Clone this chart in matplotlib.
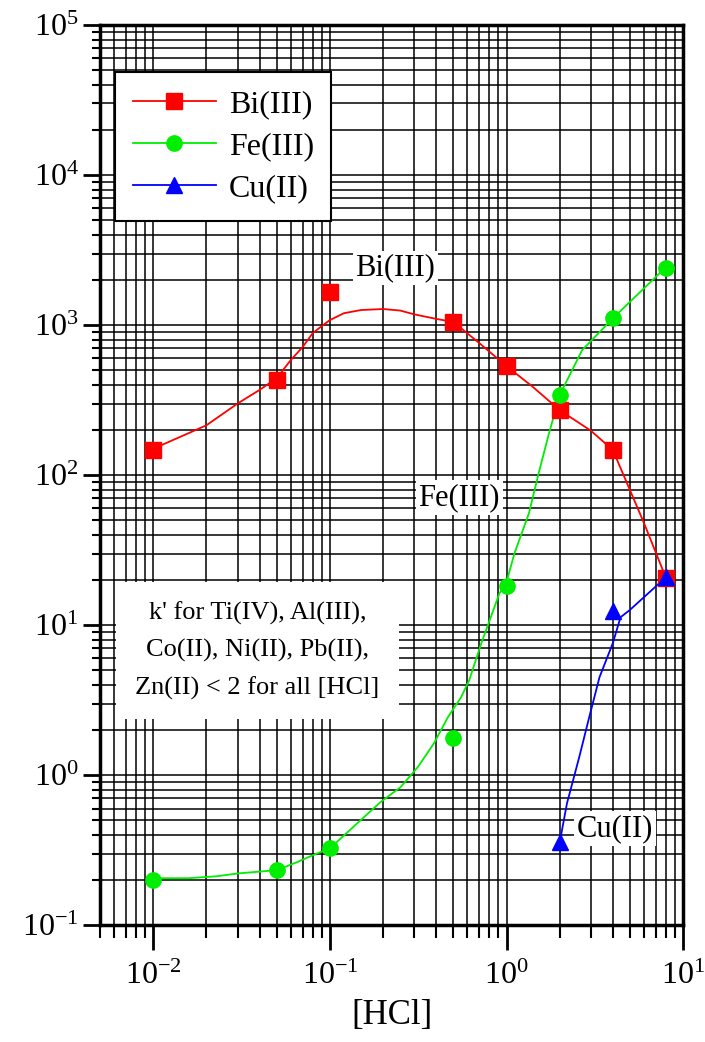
import math
import matplotlib.pyplot as plt
import matplotlib.ticker as mticker
import matplotlib

matplotlib.rcParams['font.family'] = ['Liberation Serif', 'DejaVu Serif']
matplotlib.rcParams['mathtext.fontset'] = 'custom'
matplotlib.rcParams['mathtext.rm'] = 'Liberation Serif'
matplotlib.rcParams['mathtext.it'] = 'Liberation Serif'

# measured points
hcl = [0.01, 0.05, 0.1, 0.5, 1, 2, 4, 8]
bi_k = [148, 430, 1660, 1050, 533, 271, 147, 20.6]
fe_k = [0.2, 0.233, 0.326, 1.77, 18.2, 342, 1110, 2400]
cu_hcl = [2, 4, 8]
cu_k = [0.357, 12.4, 20.9]

# smooth curves as drawn in the figure
bi_fit_x = [0.01, 0.02, 0.03, 0.04, 0.05, 0.06, 0.07, 0.08, 0.09, 0.1, 0.12, 0.15, 0.2,
            0.25, 0.3, 0.4, 0.5, 0.7, 1, 1.4, 2, 3, 4, 6, 8]
bi_fit_y = [150, 215, 300, 370, 443, 584, 713, 885, 985, 1080, 1200, 1260, 1280,
            1250, 1180, 1100, 1050, 760, 533, 390, 271, 198, 147, 48, 20.6]
fe_fit_x = [0.01, 0.0158, 0.0226, 0.0306, 0.05, 0.0648, 0.08, 0.1, 0.143, 0.193, 0.251,
            0.314, 0.388, 0.466, 0.553, 0.615, 0.72, 0.912, 1, 1.11, 1.34, 1.52, 1.74,
            2, 2.68, 4, 8]
fe_fit_y = [0.206, 0.206, 0.212, 0.222, 0.233, 0.263, 0.293, 0.326, 0.479, 0.661, 0.832,
            1.13, 1.63, 2.44, 3.31, 4.3, 7.59, 16.3, 19.4, 30.2, 55.8, 103, 190,
            342, 681, 1110, 2436]
cu_fit_x = [2, 2.2, 2.58, 2.94, 3.36, 4, 4.42, 4.98, 8]
cu_fit_y = [0.357, 0.651, 1.32, 2.44, 4.5, 7.6, 11.3, 12.6, 20.9]

fig = plt.figure(figsize=(7.05, 10.42), dpi=100)
ax = fig.add_axes([0.142, 0.112, 0.827, 0.864])
ax.set_xscale('log')
ax.set_yscale('log')
ax.set_xlim(0.005, 10)
ax.set_ylim(0.1, 1e5)

green = '#00ee00'
ax.plot(bi_fit_x, bi_fit_y, color='red', lw=1.3, zorder=3)
ax.plot(fe_fit_x, fe_fit_y, color=green, lw=1.3, zorder=3)
ax.plot(cu_fit_x, cu_fit_y, color='blue', lw=1.3, zorder=3)
ax.plot(hcl, bi_k, 's', color='red', ms=11, zorder=4)
ax.plot(hcl, fe_k, 'o', color=green, ms=11, zorder=4)
ax.plot(cu_hcl, cu_k, '^', color='blue', ms=12, zorder=4)

# legend handles
h1, = ax.plot([], [], '-s', color='red', ms=11, lw=1.3, label='Bi(III)')
h2, = ax.plot([], [], '-o', color=green, ms=11, lw=1.3, label='Fe(III)')
h3, = ax.plot([], [], '-^', color='blue', ms=12, lw=1.3, label='Cu(II)')
leg = ax.legend(handles=[h1, h2, h3], loc='upper left', bbox_to_anchor=(0.026, 0.948),
                fontsize=23, fancybox=False, framealpha=1, edgecolor='black',
                handlelength=2.6, handletextpad=0.4, labelspacing=0.4, borderpad=0.55,
                borderaxespad=0)
leg.get_frame().set_linewidth(1.5)
leg.set_zorder(6)

ax.xaxis.set_major_locator(mticker.LogLocator(base=10, numticks=10))
ax.xaxis.set_minor_locator(mticker.LogLocator(base=10, subs=range(2, 10), numticks=20))
ax.yaxis.set_major_locator(mticker.LogLocator(base=10, numticks=10))
ax.yaxis.set_minor_locator(mticker.LogLocator(base=10, subs=range(2, 10), numticks=20))
ax.xaxis.set_minor_formatter(mticker.NullFormatter())
ax.yaxis.set_minor_formatter(mticker.NullFormatter())
fmt = mticker.FuncFormatter(lambda v, p: r'$10^{%d}$' % round(math.log10(v)))
ax.xaxis.set_major_formatter(fmt)
ax.yaxis.set_major_formatter(fmt)

ax.grid(True, which='both', color='black', lw=1.1)
ax.set_axisbelow(True)
ax.tick_params(which='major', direction='out', length=12, width=2, labelsize=23, color='black')
ax.tick_params(which='minor', direction='out', length=6, width=1.5)
ax.tick_params(axis='x', which='major', length=18, pad=8)
ax.tick_params(axis='x', which='minor', length=9)
for s in ax.spines.values():
    s.set_linewidth(2.5)

ax.set_xlabel('[HCl]', fontsize=25, labelpad=6)

box = dict(facecolor='white', edgecolor='none', pad=2)
ax.text(0.235, 2400, 'Bi(III)', fontsize=22, ha='center', va='center', bbox=box, zorder=5)
ax.text(0.54, 71, 'Fe(III)', fontsize=22, ha='center', va='center', bbox=box, zorder=5)
ax.text(4.1, 0.44, 'Cu(II)', fontsize=22, ha='center', va='center', bbox=box, zorder=5)
ax.text(0.0388, 6.8, "k' for Ti(IV), Al(III),\nCo(II), Ni(II), Pb(II),\nZn(II) < 2 for all [HCl]",
        fontsize=19, ha='center', va='center', linespacing=1.8, zorder=5,
        bbox=dict(facecolor='white', edgecolor='none', pad=14))

plt.savefig('out.png', dpi=100)
